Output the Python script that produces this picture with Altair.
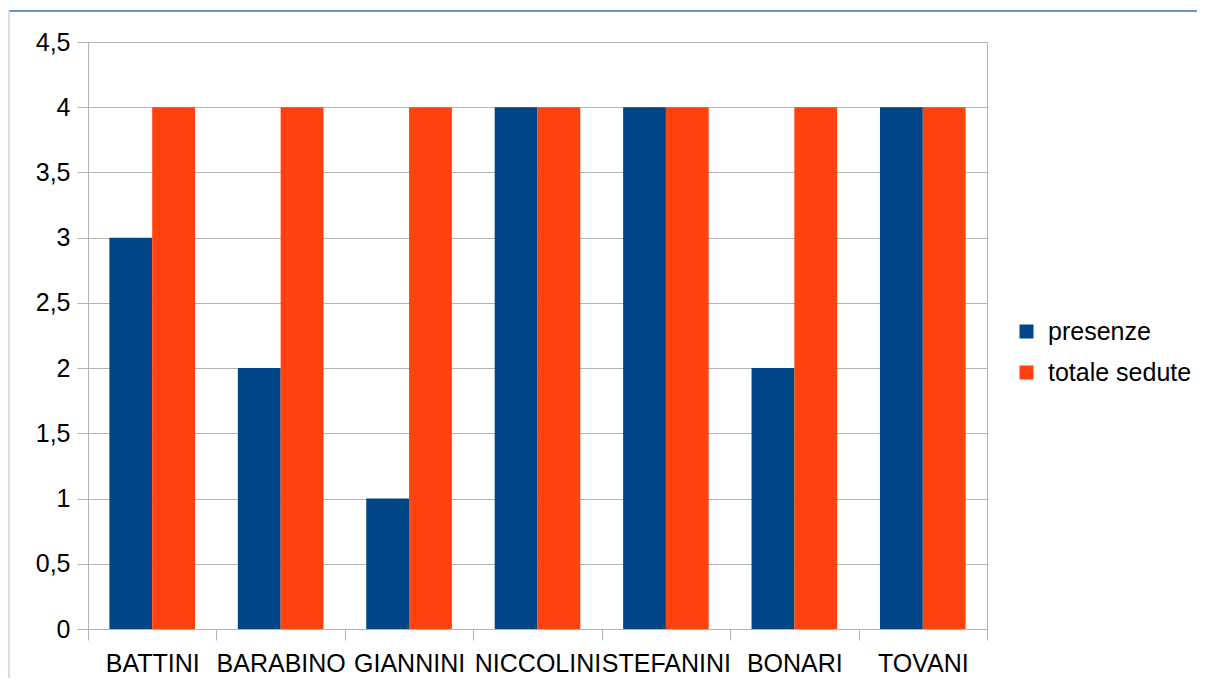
import altair as alt
import pandas as pd

names = ["BATTINI", "BARABINO", "GIANNINI", "NICCOLINI", "STEFANINI", "BONARI", "TOVANI"]
presenze = [3, 2, 1, 4, 4, 2, 4]
totale_sedute = [4, 4, 4, 4, 4, 4, 4]
series = ["presenze", "totale sedute"]
colors = ["#004586", "#ff420e"]
y_ticks = [0, 0.5, 1, 1.5, 2, 2.5, 3, 3.5, 4, 4.5]

rows = []
for i, n in enumerate(names):
    rows.append({"nome": n, "serie": series[0], "valore": presenze[i]})
    rows.append({"nome": n, "serie": series[1], "valore": totale_sedute[i]})
df = pd.DataFrame(rows)

FONT = "Liberation Sans"
GRID = "#b3b3b3"
FS = 25

bars = alt.Chart(df).mark_bar().encode(
    x=alt.X("nome:N", sort=names, title=None,
            scale=alt.Scale(paddingInner=0, paddingOuter=0),
            axis=alt.Axis(labelAngle=0, labelFontSize=FS, labelFont=FONT, labelColor="#000000",
                          tickBand="extent", tickSize=11, tickColor=GRID, domain=False,
                          labelPadding=11, labelOverlap=False, grid=False)),
    xOffset=alt.XOffset("serie:N", sort=series,
                        scale=alt.Scale(paddingInner=0, paddingOuter=0.5)),
    y=alt.Y("valore:Q", title=None,
            scale=alt.Scale(domain=[0, 4.5], nice=False),
            axis=alt.Axis(values=y_ticks, labelFontSize=FS, labelFont=FONT, labelColor="#000000",
                          tickSize=11, tickColor=GRID, gridColor=GRID, domain=False,
                          labelPadding=7, format="~g",
                          labelExpr="replace(datum.label, '.', ',')")),
    color=alt.Color("serie:N", sort=series, title=None,
                    scale=alt.Scale(domain=series, range=colors),
                    legend=alt.Legend(orient="none", legendX=926, legendY=277,
                                      symbolType="square", symbolSize=196, symbolStrokeWidth=0,
                                      labelFontSize=FS, labelFont=FONT, labelColor="#000000",
                                      rowPadding=15, labelOffset=9)),
)

frame = alt.Chart(alt.Data(values=[{}]))
top_line = frame.mark_rule(color="#3e70b2", strokeWidth=1.5).encode(
    x=alt.value(-79), x2=alt.value(1117), y=alt.value(-31))
left_line = frame.mark_rule(color="#c9d5e8", strokeWidth=1.5).encode(
    x=alt.value(-79), y=alt.value(-31), y2=alt.value(644))

chart = alt.layer(bars, top_line, left_line).properties(
    width=899, height=587,
    autosize=alt.AutoSizeParams(type="none"),
    padding={"left": 80, "top": 34, "right": 210, "bottom": 49},
    background="#ffffff",
).configure_view(stroke=GRID, strokeWidth=1)

chart.save("out.html", embed_options={"renderer": "svg", "actions": False})
